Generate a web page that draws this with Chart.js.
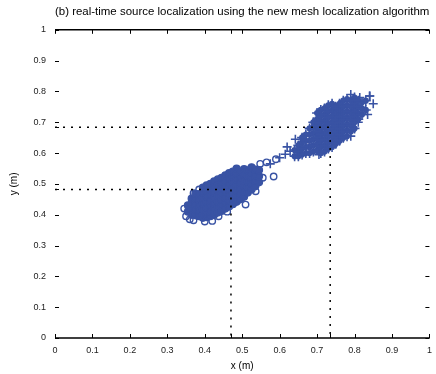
<!DOCTYPE html>
<html>
<head>
<meta charset="utf-8">
<script src="https://cdn.jsdelivr.net/npm/chart.js@4.4.1/dist/chart.umd.min.js"></script>
<style>
  body { margin: 0; background: #fff; }
  canvas { display: block; }
</style>
</head>
<body>
<canvas id="chart-loc" width="436" height="374"></canvas>
<script>
// axes range / ticks
const xRange = [0, 1];
const yRange = [0, 1];
const tickStep = 0.1;

// dotted guides: estimated source positions
const guideX = [0.47, 0.735];
const guideY = [0.482, 0.684];

// source 1 estimates, dense part (circles)
const estACore = [
  [0.355, 0.41], [0.355, 0.43],
  [0.365, 0.40], [0.365, 0.418], [0.365, 0.436], [0.365, 0.452],
  [0.375, 0.398], [0.375, 0.416], [0.375, 0.434], [0.375, 0.452], [0.375, 0.468],
  [0.385, 0.395], [0.385, 0.413], [0.385, 0.431], [0.385, 0.449], [0.385, 0.467],
  [0.395, 0.39], [0.395, 0.40], [0.395, 0.418], [0.395, 0.436], [0.395, 0.454], [0.395, 0.472], [0.395, 0.488],
  [0.405, 0.392], [0.405, 0.405], [0.405, 0.423], [0.405, 0.441], [0.405, 0.459], [0.405, 0.477], [0.405, 0.495],
  [0.415, 0.395], [0.415, 0.41], [0.415, 0.428], [0.415, 0.446], [0.415, 0.464], [0.415, 0.482], [0.415, 0.50],
  [0.425, 0.40], [0.425, 0.418], [0.425, 0.436], [0.425, 0.454], [0.425, 0.472], [0.425, 0.49], [0.425, 0.508],
  [0.435, 0.407], [0.435, 0.425], [0.435, 0.443], [0.435, 0.461], [0.435, 0.479], [0.435, 0.497], [0.435, 0.515],
  [0.445, 0.412], [0.445, 0.43], [0.445, 0.448], [0.445, 0.466], [0.445, 0.484], [0.445, 0.502], [0.445, 0.52],
  [0.455, 0.42], [0.455, 0.438], [0.455, 0.456], [0.455, 0.474], [0.455, 0.492], [0.455, 0.51], [0.455, 0.528],
  [0.465, 0.427], [0.465, 0.445], [0.465, 0.463], [0.465, 0.481], [0.465, 0.499], [0.465, 0.517], [0.465, 0.535],
  [0.475, 0.434], [0.475, 0.452], [0.475, 0.47], [0.475, 0.488], [0.475, 0.506], [0.475, 0.524], [0.475, 0.54],
  [0.485, 0.442], [0.485, 0.46], [0.485, 0.478], [0.485, 0.496], [0.485, 0.514], [0.485, 0.532], [0.485, 0.55],
  [0.495, 0.45], [0.495, 0.468], [0.495, 0.486], [0.495, 0.504], [0.495, 0.522], [0.495, 0.54],
  [0.505, 0.458], [0.505, 0.476], [0.505, 0.494], [0.505, 0.512], [0.505, 0.53], [0.505, 0.548],
  [0.515, 0.472], [0.515, 0.49], [0.515, 0.508], [0.515, 0.526], [0.515, 0.544],
  [0.525, 0.482], [0.525, 0.50], [0.525, 0.518], [0.525, 0.536], [0.525, 0.554],
  [0.535, 0.492], [0.535, 0.51], [0.535, 0.528], [0.535, 0.546],
  [0.545, 0.505], [0.545, 0.525], [0.545, 0.545]
];

// source 1 estimates, scattered ones
const estAEdge = [
  [0.35, 0.395], [0.37, 0.382], [0.40, 0.378], [0.437, 0.395], [0.46, 0.41],
  [0.509, 0.433], [0.536, 0.476], [0.555, 0.52], [0.584, 0.524], [0.548, 0.565],
  [0.565, 0.57], [0.59, 0.58], [0.37, 0.47], [0.385, 0.482], [0.345, 0.42],
  [0.36, 0.385], [0.42, 0.38]
];

// source 2 estimates, dense part (plus signs)
const estBCore = [
  [0.64, 0.59], [0.64, 0.61],
  [0.65, 0.59], [0.65, 0.605], [0.65, 0.625],
  [0.66, 0.595], [0.66, 0.615], [0.66, 0.635], [0.66, 0.65],
  [0.67, 0.60], [0.67, 0.62], [0.67, 0.64], [0.67, 0.66],
  [0.68, 0.60], [0.68, 0.62], [0.68, 0.64], [0.68, 0.66], [0.68, 0.68],
  [0.69, 0.605], [0.69, 0.625], [0.69, 0.645], [0.69, 0.665], [0.69, 0.685], [0.69, 0.70],
  [0.70, 0.61], [0.70, 0.63], [0.70, 0.65], [0.70, 0.67], [0.70, 0.69], [0.70, 0.71], [0.70, 0.73],
  [0.71, 0.60], [0.71, 0.62], [0.71, 0.64], [0.71, 0.66], [0.71, 0.68], [0.71, 0.70], [0.71, 0.72], [0.71, 0.74],
  [0.72, 0.605], [0.72, 0.625], [0.72, 0.645], [0.72, 0.665], [0.72, 0.685], [0.72, 0.705], [0.72, 0.725], [0.72, 0.745],
  [0.73, 0.615], [0.73, 0.635], [0.73, 0.655], [0.73, 0.675], [0.73, 0.695], [0.73, 0.715], [0.73, 0.735], [0.73, 0.755],
  [0.74, 0.62], [0.74, 0.64], [0.74, 0.66], [0.74, 0.68], [0.74, 0.70], [0.74, 0.72], [0.74, 0.74], [0.74, 0.76],
  [0.75, 0.63], [0.75, 0.65], [0.75, 0.67], [0.75, 0.69], [0.75, 0.71], [0.75, 0.73], [0.75, 0.75],
  [0.76, 0.64], [0.76, 0.66], [0.76, 0.68], [0.76, 0.70], [0.76, 0.72], [0.76, 0.74], [0.76, 0.76],
  [0.77, 0.65], [0.77, 0.67], [0.77, 0.69], [0.77, 0.71], [0.77, 0.73], [0.77, 0.75], [0.77, 0.77],
  [0.78, 0.655], [0.78, 0.675], [0.78, 0.695], [0.78, 0.715], [0.78, 0.735], [0.78, 0.755], [0.78, 0.775],
  [0.79, 0.67], [0.79, 0.69], [0.79, 0.71], [0.79, 0.73], [0.79, 0.75], [0.79, 0.77],
  [0.80, 0.68], [0.80, 0.70], [0.80, 0.72], [0.80, 0.74], [0.80, 0.76], [0.80, 0.78],
  [0.81, 0.71], [0.81, 0.73], [0.81, 0.75], [0.81, 0.77],
  [0.82, 0.725], [0.82, 0.745], [0.82, 0.765],
  [0.83, 0.74], [0.83, 0.77]
];

// source 2 estimates, scattered ones
const estBEdge = [
  [0.60, 0.585], [0.615, 0.596], [0.628, 0.606], [0.642, 0.645], [0.62, 0.62],
  [0.705, 0.595], [0.79, 0.655], [0.81, 0.70], [0.814, 0.78], [0.841, 0.785],
  [0.85, 0.76], [0.835, 0.725], [0.79, 0.79], [0.84, 0.785], [0.575, 0.565]
];

const titleText = "(b) real-time source localization using the new mesh localization algorithm";
const xLabel = "x (m)";
const yLabel = "y (m)";

const blue = "rgb(57, 83, 164)";
const fontFam = "'Liberation Sans', Arial, sans-serif";

const toPts = (arr) => arr.map(([x, y]) => ({ x, y }));

const fmtTick = (v) => {
  const r = Math.round(v * 10) / 10;
  if (r === 0) return "0";
  if (r === 1) return "1";
  return r.toFixed(1);
};

const guideSets = guideX.map((gx, i) => ({
  label: "guide" + i,
  data: [
    { x: xRange[0], y: guideY[i] },
    { x: gx, y: guideY[i] },
    { x: gx, y: yRange[0] },
  ],
  showLine: true,
  borderColor: "#000",
  borderWidth: 1.5,
  borderDash: [2, 6],
  pointRadius: 0,
  fill: false,
}));

// frame (top/bottom lines) and inward ticks, matlab style
const frameTicks = {
  id: "frameTicks",
  afterDraw(chart) {
    const { ctx, chartArea: a, scales } = chart;
    const sx = scales.x, sy = scales.y;
    ctx.save();
    ctx.strokeStyle = "#000";
    ctx.lineWidth = 1.5;
    ctx.beginPath();
    ctx.moveTo(a.left, a.top); ctx.lineTo(a.right, a.top);
    ctx.moveTo(a.left, a.bottom); ctx.lineTo(a.right, a.bottom);
    ctx.stroke();
    ctx.lineWidth = 1;
    ctx.beginPath();
    const xt = sx.ticks.map((t) => t.value).concat(guideX);
    const yt = sy.ticks.map((t) => t.value).concat(guideY);
    xt.forEach((v) => {
      const px = Math.round(sx.getPixelForValue(v)) + 0.5;
      ctx.moveTo(px, a.bottom); ctx.lineTo(px, a.bottom - 4);
      ctx.moveTo(px, a.top); ctx.lineTo(px, a.top + 4);
    });
    yt.forEach((v) => {
      const py = Math.round(sy.getPixelForValue(v)) + 0.5;
      ctx.moveTo(a.left, py); ctx.lineTo(a.left + 4, py);
      ctx.moveTo(a.right, py); ctx.lineTo(a.right - 4, py);
    });
    ctx.stroke();
    ctx.restore();
  },
};

const ctx = document.getElementById("chart-loc").getContext("2d");
new Chart(ctx, {
  type: "scatter",
  data: {
    datasets: [
      ...guideSets,
      {
        label: "source 1",
        data: toPts(estACore),
        pointStyle: "circle",
        pointRadius: 3.4,
        borderWidth: 1.4,
        borderColor: blue,
        backgroundColor: blue,
      },
      {
        label: "source 1 (scattered)",
        data: toPts(estAEdge),
        pointStyle: "circle",
        pointRadius: 3.2,
        borderWidth: 1.4,
        borderColor: blue,
        backgroundColor: "rgba(0,0,0,0)",
      },
      {
        label: "source 2",
        data: toPts(estBCore),
        pointStyle: "cross",
        pointRadius: 5,
        borderWidth: 1.6,
        borderColor: blue,
      },
      {
        label: "source 2 (body)",
        data: toPts(estBCore),
        pointStyle: "circle",
        pointRadius: 3.1,
        borderWidth: 0,
        backgroundColor: blue,
      },
      {
        label: "source 2 (scattered)",
        data: toPts(estBEdge),
        pointStyle: "cross",
        pointRadius: 4.5,
        borderWidth: 1.6,
        borderColor: blue,
      },
    ],
  },
  options: {
    responsive: false,
    animation: false,
    layout: { padding: { left: 0, right: 4, top: 0, bottom: 0 } },
    plugins: {
      legend: { display: false },
      tooltip: { enabled: false },
      title: {
        display: true,
        text: titleText,
        fullSize: false,
        color: "#000",
        font: { family: fontFam, size: 11.5, weight: "normal" },
        padding: { top: 5, bottom: 11 },
      },
    },
    scales: {
      x: {
        type: "linear",
        min: xRange[0],
        max: xRange[1],
        grid: { display: false, drawTicks: false },
        border: { display: false },
        ticks: {
          stepSize: tickStep,
          callback: fmtTick,
          color: "#222",
          font: { family: fontFam, size: 9 },
          padding: 7,
          maxRotation: 0,
        },
        title: {
          display: true,
          text: xLabel,
          color: "#000",
          font: { family: fontFam, size: 10 },
          padding: { top: 0, bottom: 2 },
        },
        afterFit(s) {
          s.height = 36;
          s.paddingLeft = 0;
          s.paddingRight = 0;
        },
      },
      y: {
        type: "linear",
        min: yRange[0],
        max: yRange[1],
        grid: { display: false, drawTicks: false },
        border: { display: false },
        ticks: {
          stepSize: tickStep,
          callback: fmtTick,
          color: "#222",
          font: { family: fontFam, size: 9 },
          padding: 9,
        },
        title: {
          display: true,
          text: yLabel,
          color: "#000",
          font: { family: fontFam, size: 10 },
          padding: { top: 8, bottom: 0 },
        },
        afterFit(s) { s.width = 55; },
      },
    },
  },
  plugins: [frameTicks],
});
</script>
</body>
</html>
